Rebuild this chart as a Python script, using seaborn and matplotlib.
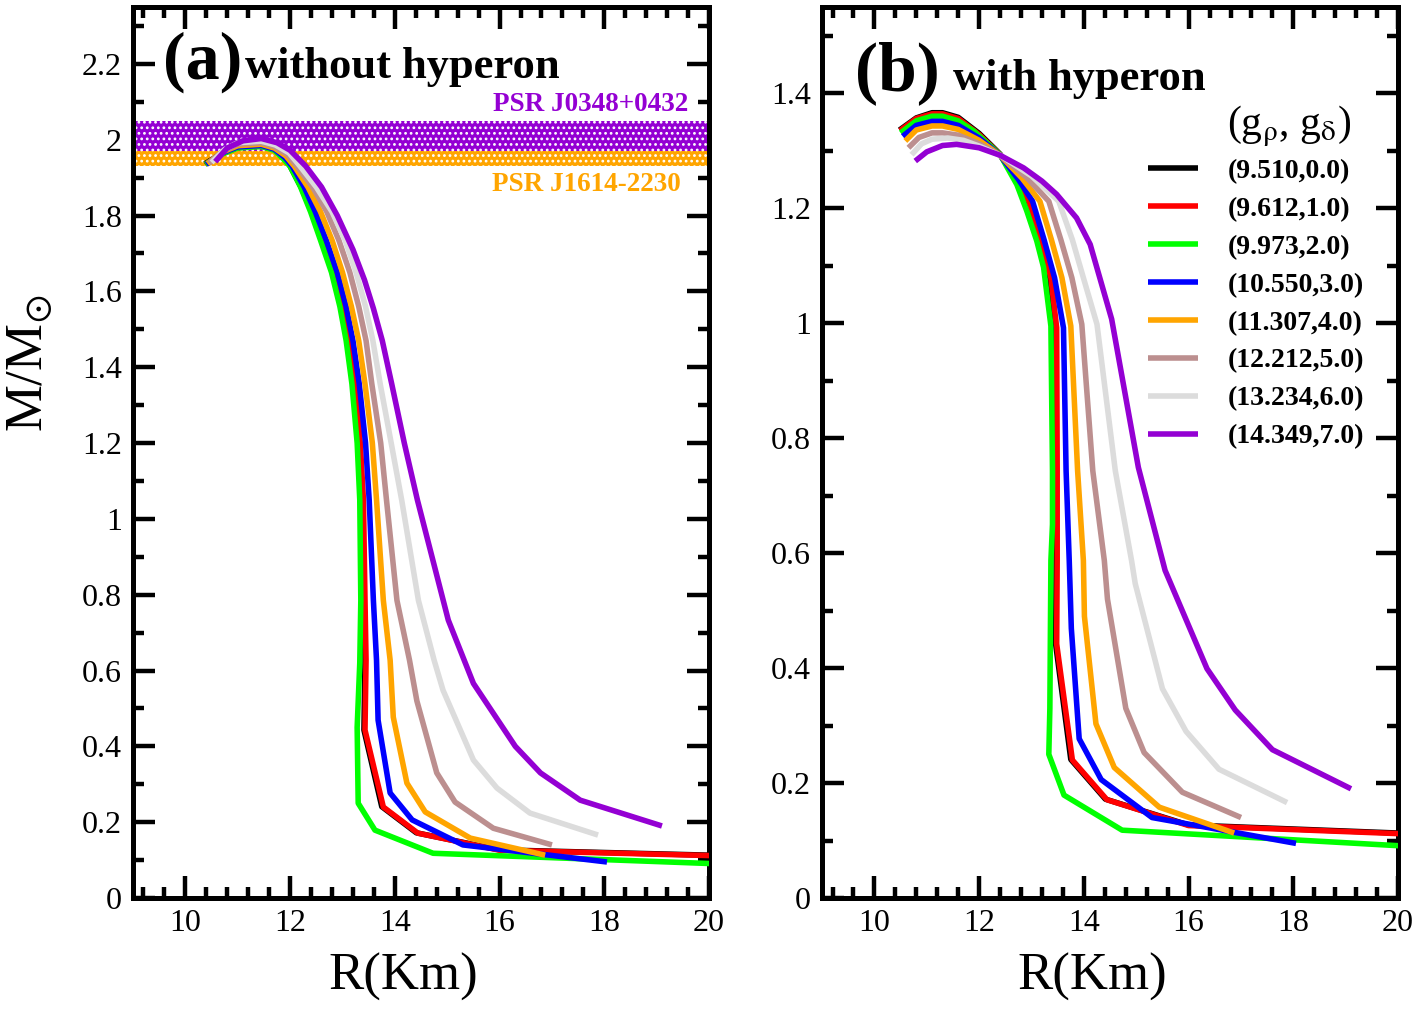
import matplotlib
matplotlib.use("Agg")
import matplotlib.pyplot as plt
import seaborn as sns
from matplotlib.ticker import MultipleLocator, FuncFormatter

# ---------------------- DATA (R in km, M in Msun) ----------------------
labels = ["(9.510,0.0)", "(9.612,1.0)", "(9.973,2.0)", "(10.550,3.0)",
          "(11.307,4.0)", "(12.212,5.0)", "(13.234,6.0)", "(14.349,7.0)"]
colors = ["#000000", "#ff0000", "#00ff00", "#0000ff",
          "#ffa500", "#bc8f8f", "#dcdcdc", "#9400d3"]

# panel (a): without hyperon
a_black = [(10.37, 1.936), (10.7, 1.964), (11.0, 1.980), (11.45, 1.984), (11.7, 1.974), (11.89, 1.951),
           (12.0, 1.93), (12.21, 1.875), (12.41, 1.81), (12.61, 1.735), (12.82, 1.65), (12.98, 1.56),
           (13.1, 1.47), (13.22, 1.356), (13.32, 1.20), (13.38, 1.05), (13.41, 0.785), (13.43, 0.627),
           (13.41, 0.443), (13.75, 0.241), (14.41, 0.172), (16.0, 0.127), (20.0, 0.113)]
a_red = [(10.38, 1.935), (10.7, 1.963), (11.0, 1.979), (11.45, 1.983), (11.7, 1.973), (11.9, 1.950),
         (12.02, 1.93), (12.23, 1.875), (12.43, 1.81), (12.63, 1.735), (12.84, 1.65), (13.0, 1.56),
         (13.12, 1.47), (13.24, 1.356), (13.34, 1.20), (13.4, 1.05), (13.43, 0.785), (13.45, 0.627),
         (13.43, 0.443), (13.78, 0.24), (14.44, 0.171), (16.0, 0.126), (20.0, 0.112)]
a_green = [(10.38, 1.935), (10.7, 1.962), (11.0, 1.978), (11.45, 1.982), (11.7, 1.972), (11.88, 1.948),
           (12.0, 1.93), (12.2, 1.875), (12.39, 1.81), (12.58, 1.735), (12.79, 1.65), (12.95, 1.56),
           (13.07, 1.47), (13.18, 1.356), (13.28, 1.20), (13.33, 1.05), (13.35, 0.785), (13.33, 0.62),
           (13.28, 0.45), (13.3, 0.25), (13.62, 0.179), (14.73, 0.118), (20.0, 0.091)]
a_blue = [(10.4, 1.935), (10.7, 1.965), (11.0, 1.981), (11.45, 1.985), (11.7, 1.975), (11.9, 1.953),
          (12.04, 1.93), (12.27, 1.875), (12.48, 1.81), (12.69, 1.735), (12.9, 1.65), (13.07, 1.56),
          (13.2, 1.47), (13.32, 1.356), (13.44, 1.20), (13.51, 1.05), (13.59, 0.785), (13.65, 0.627),
          (13.68, 0.469), (13.91, 0.277), (14.33, 0.206), (15.3, 0.14), (18.05, 0.095)]
a_orange = [(10.42, 1.937), (10.7, 1.967), (11.0, 1.984), (11.45, 1.988), (11.7, 1.978), (11.92, 1.957),
            (12.08, 1.93), (12.34, 1.875), (12.58, 1.81), (12.8, 1.735), (13.0, 1.65), (13.17, 1.56),
            (13.31, 1.47), (13.43, 1.356), (13.57, 1.20), (13.65, 1.05), (13.78, 0.785), (13.91, 0.627),
            (13.97, 0.477), (14.23, 0.303), (14.58, 0.227), (15.44, 0.158), (16.87, 0.113)]
a_brown = [(10.45, 1.938), (10.72, 1.97), (11.0, 1.988), (11.45, 1.992), (11.7, 1.982), (11.95, 1.961),
           (12.13, 1.93), (12.43, 1.875), (12.7, 1.81), (12.93, 1.735), (13.14, 1.65), (13.31, 1.56),
           (13.45, 1.47), (13.56, 1.356), (13.73, 1.20), (13.84, 1.05), (14.04, 0.785), (14.28, 0.627),
           (14.42, 0.52), (14.8, 0.33), (15.15, 0.253), (15.88, 0.184), (17.0, 0.14)]
a_gray = [(10.5, 1.94), (10.75, 1.974), (11.0, 1.992), (11.45, 1.996), (11.72, 1.986), (11.98, 1.965),
          (12.19, 1.93), (12.5, 1.875), (12.8, 1.81), (13.05, 1.735), (13.26, 1.65), (13.44, 1.56),
          (13.58, 1.47), (13.72, 1.356), (13.93, 1.20), (14.13, 1.05), (14.45, 0.785), (14.75, 0.627),
          (14.92, 0.548), (15.5, 0.364), (15.95, 0.29), (16.58, 0.224), (17.88, 0.166)]
a_purple = [(10.57, 1.942), (10.8, 1.978), (11.1, 1.997), (11.45, 2.003), (11.75, 1.992), (12.0, 1.972),
            (12.3, 1.93), (12.6, 1.875), (12.9, 1.80), (13.2, 1.71), (13.42, 1.63), (13.59, 1.555),
            (13.76, 1.47), (13.94, 1.356), (14.18, 1.20), (14.43, 1.05), (15.02, 0.733), (15.5, 0.566),
            (16.3, 0.40), (16.78, 0.33), (17.54, 0.258), (19.1, 0.19)]

# panel (b): with hyperon
b_black = [(10.48, 1.336), (10.8, 1.357), (11.1, 1.366), (11.3, 1.366), (11.6, 1.358), (12.0, 1.330),
           (12.4, 1.294), (12.7, 1.250), (12.93, 1.212), (13.15, 1.145), (13.35, 1.079), (13.46, 0.992),
           (13.47, 0.743), (13.47, 0.587), (13.46, 0.442), (13.75, 0.241), (14.41, 0.172), (16.0, 0.127),
           (20.0, 0.113)]
b_red = [(10.49, 1.335), (10.8, 1.356), (11.1, 1.364), (11.3, 1.364), (11.6, 1.356), (12.0, 1.328),
         (12.4, 1.293), (12.71, 1.249), (12.95, 1.212), (13.17, 1.145), (13.37, 1.079), (13.48, 0.992),
         (13.49, 0.743), (13.49, 0.587), (13.48, 0.442), (13.78, 0.24), (14.44, 0.171), (16.0, 0.126),
         (20.0, 0.112)]
b_green = [(10.5, 1.331), (10.8, 1.352), (11.1, 1.360), (11.3, 1.360), (11.6, 1.352), (11.9, 1.334),
           (12.4, 1.293), (12.72, 1.241), (12.91, 1.195), (13.1, 1.143), (13.23, 1.097), (13.37, 0.995),
           (13.4, 0.743), (13.4, 0.65), (13.37, 0.587), (13.35, 0.33), (13.33, 0.25), (13.62, 0.179),
           (14.73, 0.118), (20.0, 0.091)]
b_blue = [(10.54, 1.325), (10.8, 1.344), (11.1, 1.351), (11.3, 1.351), (11.6, 1.344), (12.0, 1.322),
          (12.4, 1.292), (12.75, 1.25), (13.02, 1.212), (13.24, 1.145), (13.44, 1.079), (13.61, 0.992),
          (13.66, 0.743), (13.72, 0.587), (13.76, 0.469), (13.91, 0.277), (14.33, 0.206), (15.3, 0.14),
          (18.05, 0.095)]
b_orange = [(10.59, 1.317), (10.8, 1.336), (11.1, 1.343), (11.3, 1.343), (11.6, 1.337), (12.0, 1.318),
            (12.4, 1.292), (12.82, 1.252), (13.16, 1.212), (13.38, 1.145), (13.58, 1.079), (13.75, 0.995),
            (13.88, 0.743), (13.99, 0.587), (14.01, 0.49), (14.23, 0.303), (14.58, 0.227), (15.44, 0.158),
            (16.87, 0.113)]
b_brown = [(10.65, 1.305), (10.85, 1.323), (11.1, 1.331), (11.3, 1.331), (11.6, 1.327), (12.0, 1.312),
           (12.4, 1.292), (12.9, 1.254), (13.33, 1.212), (13.56, 1.145), (13.77, 1.079), (13.96, 0.998),
           (14.17, 0.743), (14.39, 0.587), (14.45, 0.52), (14.8, 0.33), (15.15, 0.253), (15.88, 0.184),
           (17.0, 0.14)]
b_gray = [(10.71, 1.293), (10.9, 1.312), (11.1, 1.320), (11.4, 1.322), (11.7, 1.318), (12.0, 1.308),
          (12.4, 1.292), (13.0, 1.256), (13.52, 1.212), (13.78, 1.145), (13.99, 1.079), (14.25, 0.998),
          (14.6, 0.743), (14.91, 0.587), (14.98, 0.547), (15.5, 0.364), (15.95, 0.29), (16.58, 0.224),
          (17.88, 0.166)]
b_purple = [(10.78, 1.282), (11.0, 1.298), (11.3, 1.309), (11.57, 1.311), (12.0, 1.305), (12.4, 1.292),
            (12.85, 1.27), (13.2, 1.247), (13.48, 1.224), (13.86, 1.183), (14.12, 1.137), (14.53, 1.007),
            (15.04, 0.749), (15.55, 0.57), (16.35, 0.399), (16.89, 0.327), (17.6, 0.258), (19.1, 0.19)]

# pulsar mass bands (Msun)
psr_names = ["PSR J1614-2230", "PSR J0348+0432"]
psr_low = [1.93, 1.97]
psr_high = [2.01, 2.05]
psr_colors = ["#ffa500", "#9400d3"]

# ---------------------- STYLE ----------------------
sns.set_style("ticks")
plt.rcParams['font.family'] = ['Liberation Serif', 'DejaVu Serif']
plt.rcParams['mathtext.fontset'] = 'stix'
plt.rcParams['hatch.linewidth'] = 1.2
for key in ['text.color', 'axes.labelcolor', 'xtick.color', 'ytick.color', 'axes.edgecolor']:
    plt.rcParams[key] = 'black'

fig = plt.figure(figsize=(14.21, 10.09), dpi=100)
ax_a = fig.add_axes([0.0936, 0.110, 0.4054, 0.8831])
ax_b = fig.add_axes([0.5785, 0.110, 0.4054, 0.8831])

# ---------------------- BANDS ----------------------
for lo, hi, c in zip(psr_low, psr_high, psr_colors):
    ax_a.fill_between([9, 20], lo, hi, facecolor=c, edgecolor='white',
                      hatch='...', linewidth=0, zorder=1)
ax_a.text(19.6, 2.075, psr_names[1], color=psr_colors[1], fontsize=19.5,
          fontweight='bold', ha='right', va='baseline')
ax_a.text(19.45, 1.865, psr_names[0], color=psr_colors[0], fontsize=19.5,
          fontweight='bold', ha='right', va='baseline')

# ---------------------- CURVES ----------------------
curves_a = [a_black, a_red, a_green, a_blue, a_orange, a_brown, a_gray, a_purple]
curves_b = [b_black, b_red, b_green, b_blue, b_orange, b_brown, b_gray, b_purple]

for pts, c in zip(curves_a, colors):
    R = [p[0] for p in pts]
    M = [p[1] for p in pts]
    sns.lineplot(x=R, y=M, sort=False, estimator=None, color=c, linewidth=4.0,
                 solid_capstyle='butt', ax=ax_a, legend=False, zorder=3)

for pts, c, lab in zip(curves_b, colors, labels):
    R = [p[0] for p in pts]
    M = [p[1] for p in pts]
    sns.lineplot(x=R, y=M, sort=False, estimator=None, color=c, linewidth=4.0,
                 solid_capstyle='butt', ax=ax_b, label=lab, zorder=3)

# ---------------------- AXES ----------------------
fmt = FuncFormatter(lambda v, p: f"{v:g}")
for ax, ytop in [(ax_a, 2.35), (ax_b, 1.55)]:
    ax.set_xlim(9, 20)
    ax.set_ylim(0, ytop)
    ax.xaxis.set_major_locator(MultipleLocator(2))
    ax.xaxis.set_minor_locator(MultipleLocator(0.4))
    ax.yaxis.set_major_locator(MultipleLocator(0.2))
    ax.yaxis.set_minor_locator(MultipleLocator(0.1))
    ax.yaxis.set_major_formatter(fmt)
    ax.xaxis.set_major_formatter(fmt)
    ax.tick_params(which='both', direction='in', top=True, right=True, width=3.2, color='black')
    ax.tick_params(which='major', length=16, labelsize=23, pad=8)
    ax.tick_params(which='minor', length=8)
    for s in ax.spines.values():
        s.set_linewidth(3.6)
        s.set_color('black')
    ax.set_xlabel("R(Km)", fontsize=38)
    ax.xaxis.set_label_coords(0.47, -0.062)
    ax.set_ylabel("")

ax_a.set_ylabel(r"M/M$_{\odot}$", fontsize=38)
ax_a.yaxis.set_label_coords(-0.136, 0.6)

ax_a.text(0.052, 0.920, "(a)", fontsize=49, fontweight='bold', transform=ax_a.transAxes, va='baseline')
ax_a.text(0.194, 0.920, "without hyperon", fontsize=32, fontweight='bold', transform=ax_a.transAxes, va='baseline')
ax_b.text(0.057, 0.907, "(b)", fontsize=50, fontweight='bold', transform=ax_b.transAxes, va='baseline')
ax_b.text(0.227, 0.907, "with hyperon", fontsize=32, fontweight='bold', transform=ax_b.transAxes, va='baseline')

# legend
ax_b.text(0.703, 0.866, r"(g$_{\mathrm{\rho}}$, g$_{\mathrm{\delta}}$)", fontsize=30,
          transform=ax_b.transAxes, ha='left', va='center')
ax_b.legend(loc='upper left', bbox_to_anchor=(0.566, 0.830), frameon=False,
            prop={'weight': 'bold', 'size': 20}, handlelength=1.8, handletextpad=1.05,
            labelspacing=0.45, borderpad=0, borderaxespad=0)

fig.savefig("out.png", dpi=100)
